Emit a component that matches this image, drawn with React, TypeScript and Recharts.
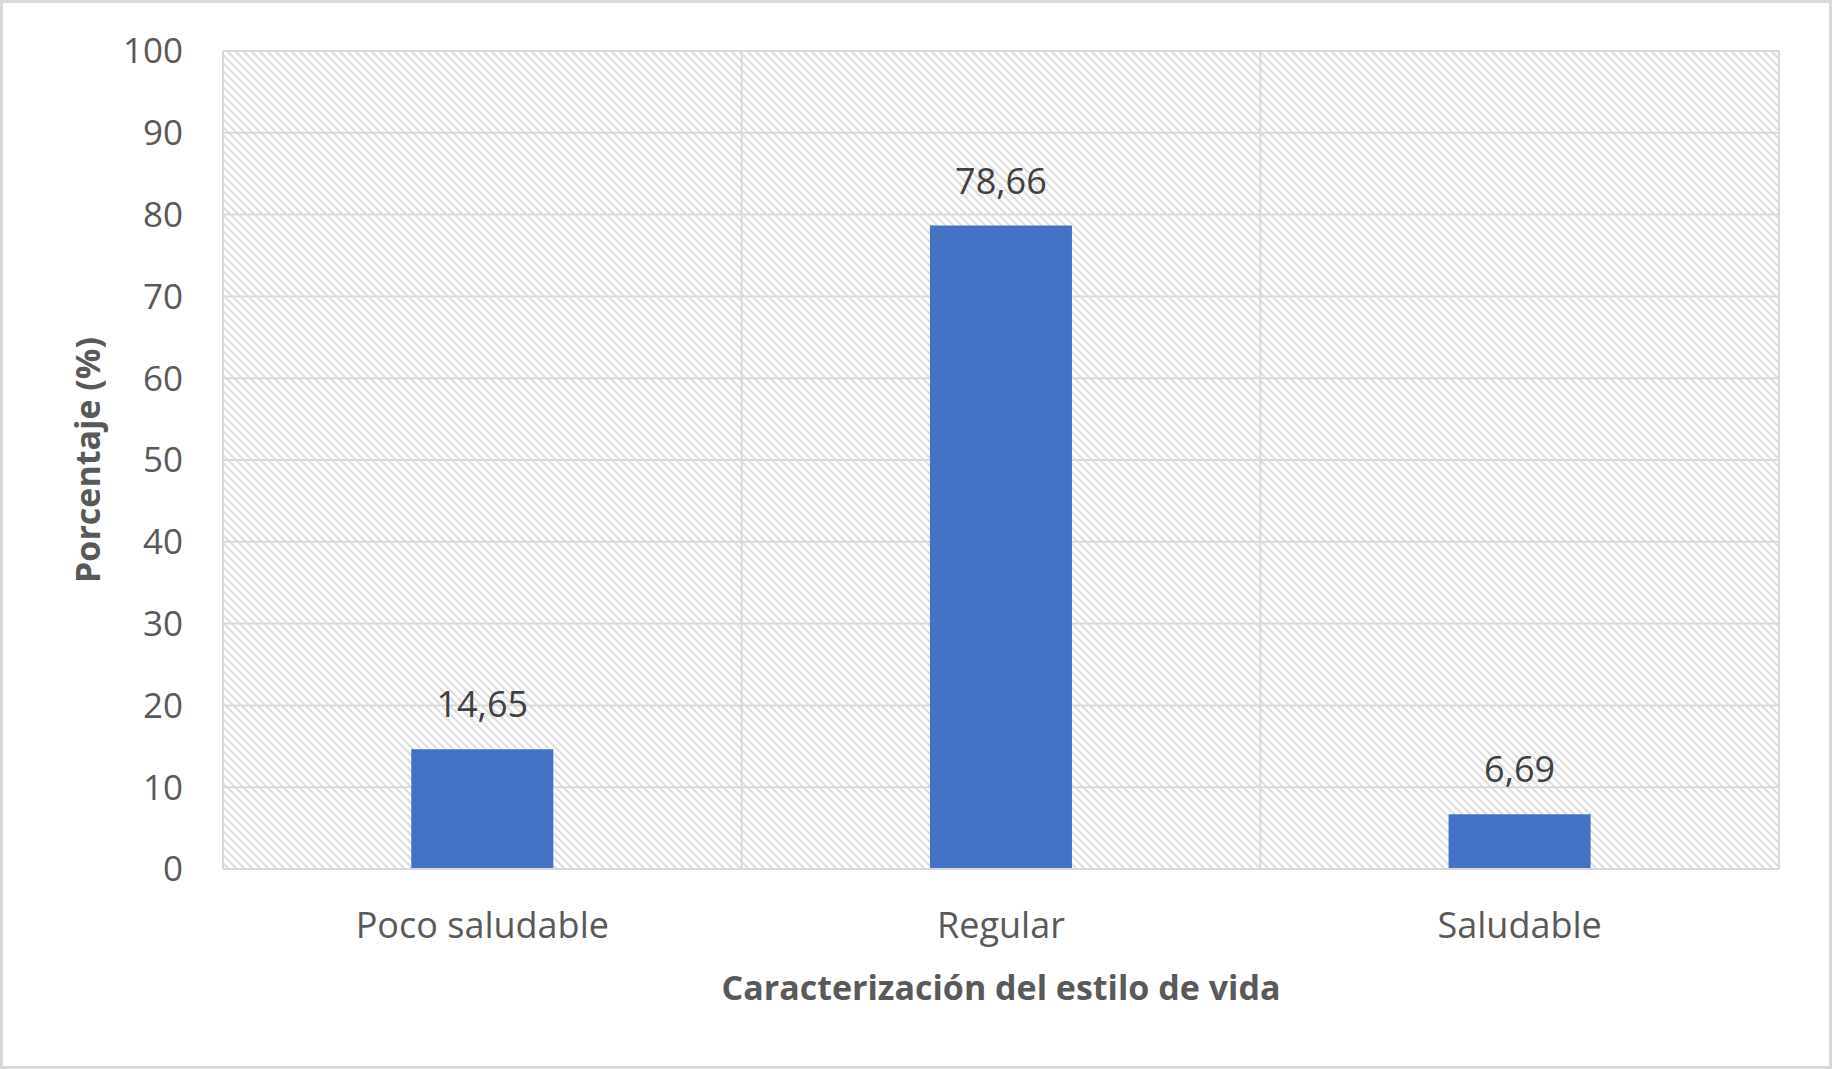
import { BarChart, Bar, XAxis, YAxis, CartesianGrid, LabelList } from "recharts";

const categories = ["Poco saludable", "Regular", "Saludable"];
const percentages = [14.65, 78.66, 6.69];
const yTicks = [0, 10, 20, 30, 40, 50, 60, 70, 80, 90, 100];

const data = categories.map((name, i) => ({ name, value: percentages[i] }));

const FONT = "'Open Sans', sans-serif";
const GRID = "#d9d9d9";

const YTitle = ({ viewBox }: any) => {
  const cy = viewBox.y + viewBox.height / 2;
  return (
    <text
      transform={`translate(84, ${cy}) rotate(-90)`}
      textAnchor="middle"
      dominantBaseline="central"
      fill="#595959"
      fontFamily={FONT}
      fontWeight={700}
      fontSize={34}
    >
      Porcentaje (%)
    </text>
  );
};

const XTitle = ({ viewBox }: any) => (
  <text
    x={viewBox.x + viewBox.width / 2}
    y={viewBox.y + 118}
    textAnchor="middle"
    dominantBaseline="central"
    fill="#595959"
    fontFamily={FONT}
    fontWeight={700}
    fontSize={34}
  >
    Caracterización del estilo de vida
  </text>
);

export default function App() {
  return (
    <div
      style={{
        position: "absolute",
        left: 0,
        top: 0,
        width: 1832,
        height: 1069,
        border: "3px solid #d9d9d9",
        boxSizing: "border-box",
        background: "#fff",
      }}
    >
      <BarChart
        width={1826}
        height={1063}
        data={data}
        margin={{ top: 48, right: 50, left: 0, bottom: 167 }}
        barCategoryGap="36.3%"
      >
        <defs>
          <pattern id="hatch" patternUnits="userSpaceOnUse" width={8} height={8}>
            <rect width={8} height={8} fill="#fff" />
            <path d="M0,0 L8,8 M-2,6 L2,10 M6,-2 L10,2" stroke="#dcdcdc" strokeWidth={2} />
          </pattern>
        </defs>
        <CartesianGrid
          fill="url(#hatch)"
          fillOpacity={1}
          stroke={GRID}
          strokeWidth={2}
          verticalCoordinatesGenerator={({ offset }: any) => [
            offset.left,
            offset.left + offset.width / 3,
            offset.left + (2 * offset.width) / 3,
            offset.left + offset.width,
          ]}
        />
        <XAxis
          dataKey="name"
          height={30}
          tickLine={false}
          tickSize={0}
          tickMargin={43}
          axisLine={{ stroke: GRID, strokeWidth: 2 }}
          tick={{ fill: "#595959", fontSize: 36, fontFamily: FONT }}
          label={<XTitle />}
        />
        <YAxis
          width={220}
          domain={[0, 100]}
          ticks={yTicks}
          interval={0}
          tickLine={false}
          tickSize={0}
          tickMargin={40}
          axisLine={false}
          tick={{ fill: "#595959", fontSize: 35, fontFamily: FONT }}
          label={<YTitle />}
        />
        <Bar dataKey="value" fill="#4472c4" isAnimationActive={false}>
          <LabelList
            dataKey="value"
            position="top"
            offset={32}
            fill="#404040"
            fontSize={36}
            fontFamily={FONT}
            formatter={(v: any) => String(v).replace(".", ",")}
          />
        </Bar>
      </BarChart>
    </div>
  );
}
